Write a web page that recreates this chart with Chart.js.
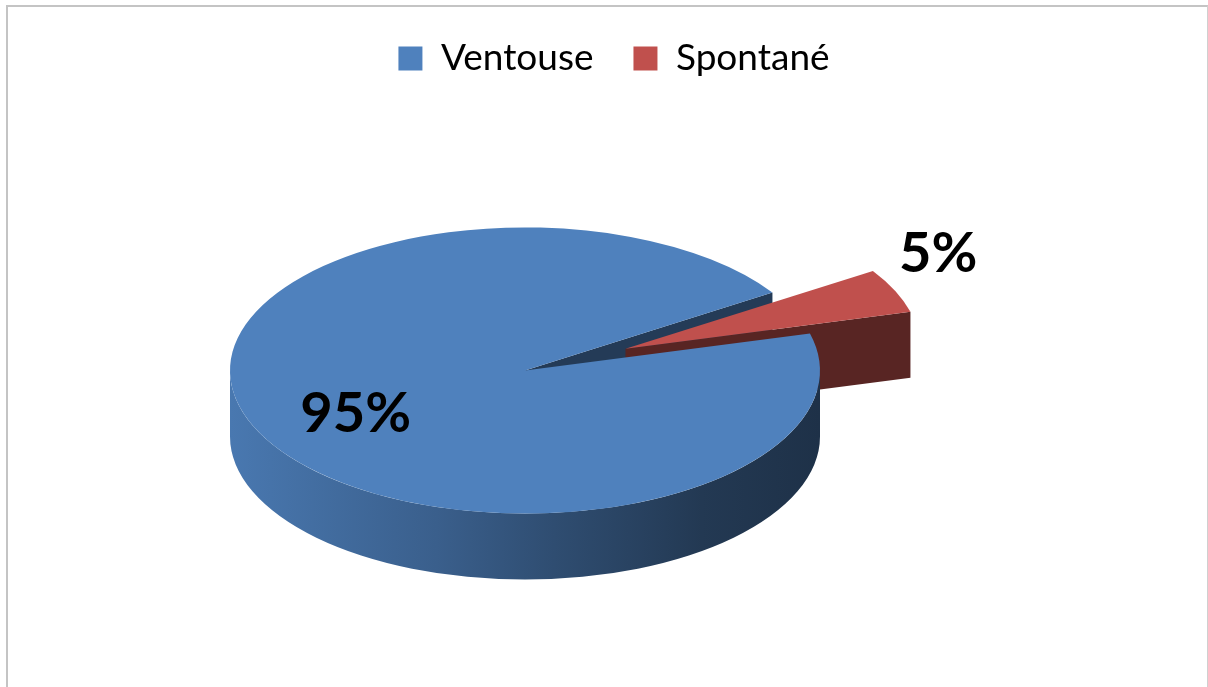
<!DOCTYPE html>
<html>
<head>
<meta charset="utf-8">
<script src="https://cdn.jsdelivr.net/npm/chart.js@4.4.1/dist/chart.umd.min.js"></script>
<style>
  html, body { margin: 0; padding: 0; background: #ffffff; overflow: hidden; }
  #frame { position: absolute; left: 6px; top: 5px; width: 1199px; height: 720px;
           border-left: 2px solid #c4c4c4; border-top: 2px solid #c4c4c4; border-right: 1px solid #d0d0d0; }
  #c { position: absolute; left: 0; top: 0; }
</style>
</head>
<body>
<div id="frame"></div>
<canvas id="c" width="1208" height="687"></canvas>
<script>
// ---- data ----
const categories = ['Ventouse', 'Spontané'];
const percentages = [95, 5];
const sliceColors = ['#4f81bd', '#c0504d'];

// ---- helpers ----
function shade(hex, f) {
  const n = parseInt(hex.slice(1), 16);
  const r = Math.round(((n >> 16) & 255) * f), g = Math.round(((n >> 8) & 255) * f), b = Math.round((n & 255) * f);
  return `rgb(${r},${g},${b})`;
}

const pie3d = {
  id: 'pie3d',
  afterLayout(chart, args, opts) {
    const a = chart.chartArea;
    a.left += opts.plotShiftX; a.right += opts.plotShiftX;
  },
  _slices(chart, opts) {
    const meta = chart.getDatasetMeta(0);
    return meta.data.map((arc, i) => {
      const p = arc.getProps(['x', 'y', 'startAngle', 'endAngle', 'outerRadius'], true);
      const mid = (p.startAngle + p.endAngle) / 2;
      const e = opts.explode[i] || 0;
      return { i, a0: p.startAngle, a1: p.endAngle, mid, r: p.outerRadius,
               cx: p.x + e * Math.cos(mid), cy: p.y + opts.tilt * e * Math.sin(mid),
               color: arc.options.backgroundColor };
    });
  },
  beforeDatasetsDraw(chart, args, opts) {
    const ctx = chart.ctx;
    const k = opts.tilt, D = opts.depth;
    const slices = this._slices(chart, opts);
    const rim = (s, ang, rr) => [s.cx + rr * Math.cos(ang), s.cy + k * rr * Math.sin(ang)];
    ctx.save();
    // 1. visible cut faces
    const faces = [];
    slices.forEach(s => {
      [[s.a0, -1], [s.a1, 1]].forEach(([ang, dir]) => {
        if (Math.sin(ang + dir * Math.PI / 2) > 0) faces.push({ s, ang, y: rim(s, ang, s.r)[1] });
      });
    });
    faces.sort((a, b) => a.y - b.y);
    faces.forEach(f => {
      const s = f.s, p = rim(s, f.ang, s.r);
      ctx.beginPath();
      ctx.moveTo(s.cx, s.cy);
      ctx.lineTo(p[0], p[1]);
      ctx.lineTo(p[0], p[1] + D);
      ctx.lineTo(s.cx, s.cy + D);
      ctx.closePath();
      ctx.fillStyle = shade(s.color, opts.faceShade);
      ctx.fill();
    });
    // 2. outer sides (front half only)
    slices.forEach(s => {
      for (let n = -1; n <= 1; n++) {
        const lo = Math.max(s.a0, 2 * Math.PI * n), hi = Math.min(s.a1, 2 * Math.PI * n + Math.PI);
        if (lo >= hi) continue;
        const g = ctx.createLinearGradient(s.cx - s.r, 0, s.cx + s.r, 0);
        opts.sideShade.forEach(([t, f]) => g.addColorStop(t, shade(s.color, f)));
        ctx.beginPath();
        ctx.ellipse(s.cx, s.cy, s.r, k * s.r, 0, lo, hi, false);
        ctx.ellipse(s.cx, s.cy + D, s.r, k * s.r, 0, hi, lo, true);
        ctx.closePath();
        ctx.fillStyle = g;
        ctx.fill();
      }
    });
    // 3. top faces
    slices.forEach(s => {
      ctx.beginPath();
      ctx.moveTo(s.cx, s.cy);
      ctx.ellipse(s.cx, s.cy, s.r, k * s.r, 0, s.a0, s.a1, false);
      ctx.closePath();
      ctx.fillStyle = s.color;
      ctx.fill();
    });
    ctx.restore();
    return false;
  },
  afterDraw(chart, args, opts) {
    const ctx = chart.ctx;
    const k = opts.tilt;
    const slices = this._slices(chart, opts);
    ctx.save();
    ctx.font = opts.labelFont;
    ctx.fillStyle = '#000000';
    ctx.textAlign = 'center';
    ctx.textBaseline = 'middle';
    slices.forEach(s => {
      const ang = s.mid + opts.labelAngleShift[s.i] * Math.PI / 180;
      const rr = opts.labelRadius[s.i] * s.r;
      ctx.fillText(percentages[s.i] + '%', s.cx + rr * Math.cos(ang), s.cy + k * rr * Math.sin(ang));
    });
    ctx.restore();
  }
};

new Chart(document.getElementById('c'), {
  type: 'pie',
  data: {
    labels: categories,
    datasets: [{
      data: percentages,
      backgroundColor: sliceColors,
      borderWidth: 0,
      radius: 295,
      clip: false
    }]
  },
  options: {
    responsive: false,
    animation: false,
    rotation: 75,
    layout: { padding: { left: 20, right: 0, top: 0, bottom: 33 } },
    plugins: {
      tooltip: { enabled: false },
      legend: {
        position: 'top',
        labels: {
          font: { family: 'Lato', size: 37 },
          color: '#000000',
          boxWidth: 24,
          boxHeight: 24,
          padding: 40
        }
      },
      pie3d: {
        plotShiftX: -89,
        tilt: 0.485,
        depth: 66,
        explode: [0, 110],
        faceShade: 0.46,
        sideShade: [[0, 0.93], [0.35, 0.74], [0.55, 0.6], [0.8, 0.44], [1, 0.38]],
        labelFont: 'bold 56px Lato',
        labelAngleShift: [-4, -8],
        labelRadius: [0.65, 1.25]
      }
    }
  },
  plugins: [pie3d]
});
</script>
</body>
</html>
